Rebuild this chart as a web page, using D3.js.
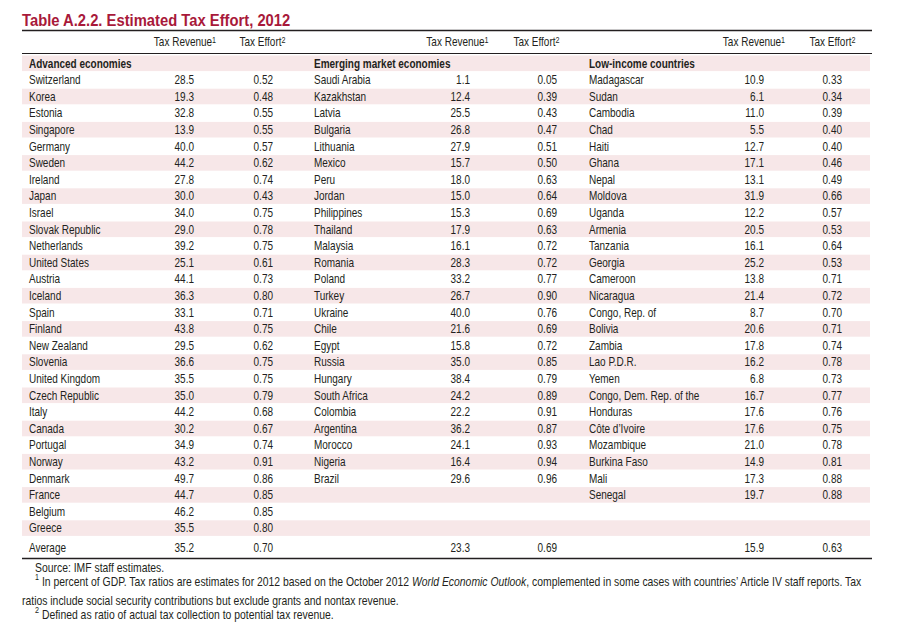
<!DOCTYPE html>
<html><head><meta charset="utf-8">
<script src="https://cdn.jsdelivr.net/npm/d3@7"></script>
<style>
body{margin:0;background:#fff;}
text{font-family:"Liberation Sans",Arial,sans-serif;fill:#231f20;}
</style></head><body>
<script>
// ---- data ----
const groupTitles = ["Advanced economies", "Emerging market economies", "Low-income countries"];
const advNames = ["Switzerland","Korea","Estonia","Singapore","Germany","Sweden","Ireland","Japan","Israel","Slovak Republic","Netherlands","United States","Austria","Iceland","Spain","Finland","New Zealand","Slovenia","United Kingdom","Czech Republic","Italy","Canada","Portugal","Norway","Denmark","France","Belgium","Greece"];
const advRevenue = [28.5,19.3,32.8,13.9,40.0,44.2,27.8,30.0,34.0,29.0,39.2,25.1,44.1,36.3,33.1,43.8,29.5,36.6,35.5,35.0,44.2,30.2,34.9,43.2,49.7,44.7,46.2,35.5];
const advEffort = [0.52,0.48,0.55,0.55,0.57,0.62,0.74,0.43,0.75,0.78,0.75,0.61,0.73,0.80,0.71,0.75,0.62,0.75,0.75,0.79,0.68,0.67,0.74,0.91,0.86,0.85,0.85,0.80];
const emNames = ["Saudi Arabia","Kazakhstan","Latvia","Bulgaria","Lithuania","Mexico","Peru","Jordan","Philippines","Thailand","Malaysia","Romania","Poland","Turkey","Ukraine","Chile","Egypt","Russia","Hungary","South Africa","Colombia","Argentina","Morocco","Nigeria","Brazil"];
const emRevenue = [1.1,12.4,25.5,26.8,27.9,15.7,18.0,15.0,15.3,17.9,16.1,28.3,33.2,26.7,40.0,21.6,15.8,35.0,38.4,24.2,22.2,36.2,24.1,16.4,29.6];
const emEffort = [0.05,0.39,0.43,0.47,0.51,0.50,0.63,0.64,0.69,0.63,0.72,0.72,0.77,0.90,0.76,0.69,0.72,0.85,0.79,0.89,0.91,0.87,0.93,0.94,0.96];
const lowNames = ["Madagascar","Sudan","Cambodia","Chad","Haiti","Ghana","Nepal","Moldova","Uganda","Armenia","Tanzania","Georgia","Cameroon","Nicaragua","Congo, Rep. of","Bolivia","Zambia","Lao P.D.R.","Yemen","Congo, Dem. Rep. of the","Honduras","Côte d\u2019Ivoire","Mozambique","Burkina Faso","Mali","Senegal"];
const lowRevenue = [10.9,6.1,11.0,5.5,12.7,17.1,13.1,31.9,12.2,20.5,16.1,25.2,13.8,21.4,8.7,20.6,17.8,16.2,6.8,16.7,17.6,17.6,21.0,14.9,17.3,19.7];
const lowEffort = [0.33,0.34,0.39,0.40,0.40,0.46,0.49,0.66,0.57,0.53,0.64,0.53,0.71,0.72,0.70,0.71,0.74,0.78,0.73,0.77,0.76,0.75,0.78,0.81,0.88,0.88];
const avgRevenue = [35.2, 23.3, 15.9];
const avgEffort = [0.70, 0.69, 0.63];
const colHeaders = ["Tax Revenue", "Tax Effort"];
const colHeaderSups = ["1", "2"];
const titleText = "Table A.2.2. Estimated Tax Effort, 2012";
const sourceText = "Source: IMF staff estimates.";

// ---- layout ----
const W = 903, H = 637;
const L = 22, R = 872;
const SX = 0.8;          // horizontal condensing of body text
const FS = 12.5;
const FN = 13;           // footnote size
const groups = [
  {names: advNames, rev: advRevenue, eff: advEffort, nameX: 29, revX: 194, effX: 273, revH: 185, effH: 262.5},
  {names: emNames, rev: emRevenue, eff: emEffort, nameX: 314, revX: 470, effX: 557, revH: 457.5, effH: 536.5},
  {names: lowNames, rev: lowRevenue, eff: lowEffort, nameX: 589, revX: 764, effX: 842, revH: 754, effH: 832.5}
];
const nRows = d3.max(groups, g => g.names.length);
const y = d3.scaleBand().domain(d3.range(-1, nRows)).range([55, 55 + (nRows + 1) * 16.6]).padding(0);
const yc = i => y(i) + y.bandwidth() / 2;

const svg = d3.select("body").append("svg").attr("width", W).attr("height", H);

function tx(parent, x, yy, str, opt = {}) {
  const t = parent.append("text")
    .attr("transform", `translate(${x},${yy}) scale(${opt.sx || SX},1)`)
    .attr("dy", "0.35em")
    .attr("text-anchor", opt.anchor || "start")
    .style("font-size", (opt.fs || FS) + "px");
  if (opt.bold) t.style("font-weight", "bold");
  if (opt.fill) t.style("fill", opt.fill);
  if (str != null) t.text(str);
  return t;
}

// title
tx(svg, L, 19.5, titleText, {fs: 17.3, sx: 0.855, bold: true, fill: "#a8193a"});

// stripes
const stripes = [-1].concat(d3.range(1, nRows, 2));
svg.selectAll("rect.stripe").data(stripes).join("rect").attr("class","stripe")
  .attr("x", L).attr("width", R - 2 - L)
  .attr("y", d => y(d) + 0.5).attr("height", y.bandwidth() - 1)
  .attr("fill", "#f7e7e8");

// rules
svg.append("line").attr("x1", L).attr("x2", R).attr("y1", 30.5).attr("y2", 30.5).attr("stroke", "#231f20").attr("stroke-width", 1.4);
svg.append("line").attr("x1", L).attr("x2", R).attr("y1", 53.5).attr("y2", 53.5).attr("stroke", "#231f20").attr("stroke-width", 1);
svg.append("line").attr("x1", L).attr("x2", R).attr("y1", 558.5).attr("y2", 558.5).attr("stroke", "#231f20").attr("stroke-width", 1.4);

function header(parent, x, label, sup) {
  const t = tx(parent, x, 42, null, {anchor: "middle"});
  t.append("tspan").text(label);
  t.append("tspan").attr("dy", "-0.4em").style("font-size", "9px").text(sup);
}

groups.forEach((g, gi) => {
  const G = svg.append("g");
  header(G, g.revH, colHeaders[0], colHeaderSups[0]);
  header(G, g.effH, colHeaders[1], colHeaderSups[1]);
  tx(G, g.nameX, yc(-1), groupTitles[gi], {bold: true});
  const rows = g.names.map((n, i) => ({n, r: g.rev[i], e: g.eff[i], i}));
  const mk = (cls, x, anchor, f) => G.selectAll("text." + cls).data(rows).join("text").attr("class", cls)
    .attr("transform", d => `translate(${x},${yc(d.i)}) scale(${SX},1)`)
    .attr("dy", "0.35em").attr("text-anchor", anchor).style("font-size", FS + "px").text(f);
  mk("nm", g.nameX, "start", d => d.n);
  mk("rv", g.revX, "end", d => d3.format(".1f")(d.r));
  mk("ef", g.effX, "end", d => d3.format(".2f")(d.e));
  if (gi === 0) tx(G, g.nameX, 548, "Average");
  tx(G, g.revX, 548, d3.format(".1f")(avgRevenue[gi]), {anchor: "end"});
  tx(G, g.effX, 548, d3.format(".2f")(avgEffort[gi]), {anchor: "end"});
});

// footnotes
tx(svg, 35, 567, sourceText, {fs: FN});
const f1 = tx(svg, 35, 584, null, {fs: FN});
f1.append("tspan").style("font-size", "9px").attr("dy", "-0.4em").text("1");
f1.append("tspan").attr("dy", "0.4em").text(" In percent of GDP. Tax ratios are estimates for 2012 based on the October 2012 ");
f1.append("tspan").style("font-style", "italic").text("World Economic Outlook");
f1.append("tspan").text(", complemented in some cases with countries\u2019 Article IV staff reports. Tax");
tx(svg, L, 600, "ratios include social security contributions but exclude grants and nontax revenue.", {fs: FN});
const f2 = tx(svg, 35, 617, null, {fs: FN});
f2.append("tspan").style("font-size", "9px").attr("dy", "-0.4em").text("2");
f2.append("tspan").attr("dy", "0.4em").text(" Defined as ratio of actual tax collection to potential tax revenue.");
</script>
</body></html>
